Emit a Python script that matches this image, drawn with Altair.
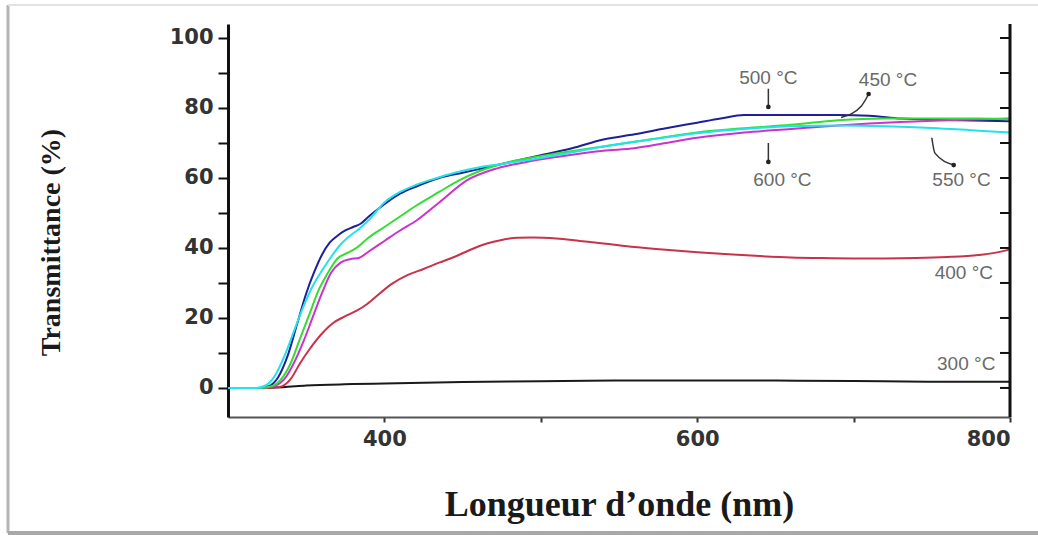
import altair as alt
import pandas as pd

# ---------------- data ----------------
wl_300 = [300, 320, 335, 350, 380, 400, 450, 500, 550, 600, 650, 700, 750, 800]
t_300 = [0, 0, 0.2, 0.7, 1.1, 1.3, 1.7, 1.9, 2.1, 2.1, 2.1, 2.0, 1.8, 1.8]

wl_400 = [300, 320, 333, 340, 346, 352, 360, 367, 375, 382, 389, 397, 405, 415, 425,
          435, 445, 455, 465, 475, 485, 495, 510, 525, 540, 560, 580, 600, 620, 640,
          660, 680, 700, 720, 740, 760, 780, 790, 800]
t_400 = [0, 0, 0.3, 2.5, 7, 11, 15.5, 18.5, 20.5, 22.0, 24.0, 27.0, 29.8, 32.3, 34,
         35.8, 37.5, 39.5, 41.2, 42.3, 42.9, 43.0, 42.7, 42.0, 41.3, 40.3, 39.5, 38.8, 38.2, 37.7,
         37.3, 37.1, 37.0, 37.0, 37.1, 37.4, 38.0, 38.6, 39.6]

wl_450 = [300, 320, 328, 334, 340, 346, 352, 358, 364, 370, 376, 382, 390, 400, 410,
          420, 435, 448, 461, 475, 490, 510, 540, 570, 600, 630, 660, 690, 720, 750, 780, 800]
t_450 = [0, 0, 0.5, 2.5, 7, 14, 21, 28, 33, 37, 38.5, 40, 43, 46, 49,
         52, 56, 59.4, 62, 64, 65.5, 67, 69, 71, 73, 74.2, 75.2, 76.5, 77, 77, 77, 76.8]

wl_500 = [300, 320, 326, 332, 338, 344, 350, 355, 360, 365, 370, 375, 380, 385, 390,
          400, 410, 420, 435, 450, 465, 480, 500, 520, 540, 560, 580, 600, 615, 630,
          650, 670, 690, 710, 730, 760, 800]
t_500 = [0, 0, 0.5, 3, 9, 18, 27, 33, 38, 41.5, 43.5, 45, 46, 47, 49,
         52.5, 55.5, 57.5, 60, 61.5, 63, 64.5, 66.5, 68.5, 71, 72.5, 74.2, 75.8, 77, 78,
         78, 78, 78, 77.8, 77, 76.6, 76.2]

wl_550 = [300, 318, 324, 330, 336, 342, 348, 354, 360, 366, 372, 378, 384, 390, 400,
          410, 420, 432, 445, 460, 475, 490, 510, 540, 570, 600, 630, 660, 690, 720,
          750, 780, 800]
t_550 = [0, 0, 0.7, 3.5, 9, 16, 23, 29, 33.5, 37.5, 41, 43.5, 45.5, 48, 53,
         56, 58, 59.8, 61.5, 63, 64, 65, 66.5, 69, 71, 72.8, 74, 74.8, 75, 74.8,
         74.3, 73.5, 73]

wl_600 = [300, 322, 330, 336, 342, 348, 354, 360, 366, 372, 378, 384, 390, 400, 410,
          421, 435, 453, 470, 490, 510, 540, 560, 580, 600, 630, 660, 690, 730, 760, 800]
t_600 = [0, 0, 0.6, 2.5, 7, 13, 20, 27, 33, 35.8, 36.8, 37.2, 39, 42, 45,
         48, 53, 59.4, 62.5, 64.5, 66, 67.8, 68.5, 70, 71.5, 73, 74, 75, 76, 76.5, 77]

series_names = ["300 °C", "400 °C", "500 °C", "600 °C", "450 °C", "550 °C"]
series_wl = [wl_300, wl_400, wl_500, wl_600, wl_450, wl_550]
series_t = [t_300, t_400, t_500, t_600, t_450, t_550]
series_colors = ["#1a1a1a", "#c8324a", "#1f1f9a", "#cc33cc", "#33dd33", "#22e2ea"]

# annotation labels
ann_text = ["500 °C", "450 °C", "600 °C", "550 °C", "400 °C", "300 °C"]
ann_wl = [645.5, 722, 654.5, 769, 770.5, 772]
ann_t = [88.6, 88.0, 59.4, 59.4, 32.9, 6.9]

# annotation arrows (polyline points) and arrow heads
arrow_id = ["a500", "a500", "a600", "a600", "a450", "a450", "a450", "a550", "a550", "a550"]
arrow_wl = [645.5, 645.5, 645.5, 645.5, 709.6, 705, 692, 750, 752, 764]
arrow_t = [85.5, 80.3, 70.0, 64.6, 84.0, 80.6, 77.3, 71.5, 67.1, 63.7]
head_wl = [645.5, 645.5, 709.6, 764]
head_t = [80.3, 64.6, 84.0, 63.7]

y_ticks = [0, 10, 20, 30, 40, 50, 60, 70, 80, 90, 100]
x_ticks = [400, 500, 600, 700, 800]

# ---------------- tables ----------------
rows = []
for name, wl, t in zip(series_names, series_wl, series_t):
    for a, b in zip(wl, t):
        rows.append({"series": name, "wl": a, "t": b})
df = pd.DataFrame(rows)

ann_df = pd.DataFrame({"label": ann_text, "wl": ann_wl, "t": ann_t})
arrow_df = pd.DataFrame({"id": arrow_id, "wl": arrow_wl, "t": arrow_t})
head_df = pd.DataFrame({"wl": head_wl, "t": head_t})
ytick_df = pd.DataFrame({"t": y_ticks})
one = pd.DataFrame({"k": [0]})

# ---------------- scales / axes ----------------
xscale = alt.Scale(domain=[300, 800], nice=False, zero=False)
yscale = alt.Scale(domain=[-8.3, 104], nice=False, zero=False)

x_axis = alt.Axis(
    values=x_ticks,
    labelExpr="datum.value % 200 == 0 ? datum.label : ''",
    title="Longueur d’onde (nm)",
    titleFont="Liberation Serif", titleFontSize=36, titleFontWeight="bold",
    titleColor="#1a1a1a", titleY=70,
    labelFont="DejaVu Sans", labelFontSize=21, labelFontWeight="bold",
    labelColor="#333333", labelPadding=6,
    domainColor="#555555", domainWidth=2,
    tickColor="#333333", tickWidth=2, tickSize=5,
    grid=False,
)
y_axis = alt.Axis(
    values=y_ticks,
    labelExpr="datum.value % 20 == 0 ? datum.label : ''",
    title="Transmittance  (%)",
    titleFont="Liberation Serif", titleFontSize=28, titleFontWeight="bold",
    titleColor="#1a1a1a", titleX=-163, titleY=218,
    labelFont="DejaVu Sans", labelFontSize=21, labelFontWeight="bold",
    labelColor="#333333", labelPadding=5,
    domainColor="#111111", domainWidth=3,
    tickColor="#111111", tickWidth=2, tickSize=10,
    grid=False,
)

X = alt.X("wl:Q", scale=xscale, axis=x_axis)
Y = alt.Y("t:Q", scale=yscale, axis=y_axis)

lines = alt.Chart(df).mark_line(strokeWidth=2, interpolate="monotone").encode(
    x=X, y=Y,
    color=alt.Color("series:N", scale=alt.Scale(domain=series_names, range=series_colors), legend=None),
    order=alt.Order("wl:Q"),
    detail="series:N",
)

labels = alt.Chart(ann_df).mark_text(
    font="Liberation Sans", fontSize=19, color="#6a6a6a", align="center", baseline="middle"
).encode(x=X, y=Y, text="label:N")

arrows = alt.Chart(arrow_df).mark_line(color="#333333", strokeWidth=1.5, interpolate="monotone").encode(
    x=X, y=Y, detail="id:N"
)
heads = alt.Chart(head_df).mark_point(filled=True, color="#222222", size=22, opacity=1).encode(x=X, y=Y)

# right-hand axis (ticks pointing inward)
right_ticks = alt.Chart(ytick_df).mark_rule(color="#111111", strokeWidth=2).encode(
    x=alt.value(772), x2=alt.value(782), y=Y
)
right_dom = alt.Chart(one).mark_rule(color="#111111", strokeWidth=3).encode(
    x=alt.value(782), y=alt.value(0), y2=alt.value(393)
)

# picture frame
frame_left = alt.Chart(one).mark_rule(color="#b5b5b5", strokeWidth=3).encode(
    x=alt.value(-220), y=alt.value(-19), y2=alt.value(509)
)
frame_top = alt.Chart(one).mark_rule(color="#e2e2e2", strokeWidth=2).encode(
    x=alt.value(-220), x2=alt.value(812), y=alt.value(-19)
)
frame_bottom = alt.Chart(one).mark_rule(color="#a8a8a8", strokeWidth=4).encode(
    x=alt.value(-220), x2=alt.value(812), y=alt.value(509)
)

chart = alt.layer(
    lines, arrows, heads, labels, right_ticks, right_dom, frame_left, frame_top, frame_bottom
).properties(
    width=782, height=393,
    padding={"left": 228, "top": 24, "right": 28, "bottom": 121},
    autosize=alt.AutoSizeParams(type="none"),
    background="white",
).configure_view(stroke=None)

chart.save("out.html", embed_options={"renderer": "svg", "actions": False})
